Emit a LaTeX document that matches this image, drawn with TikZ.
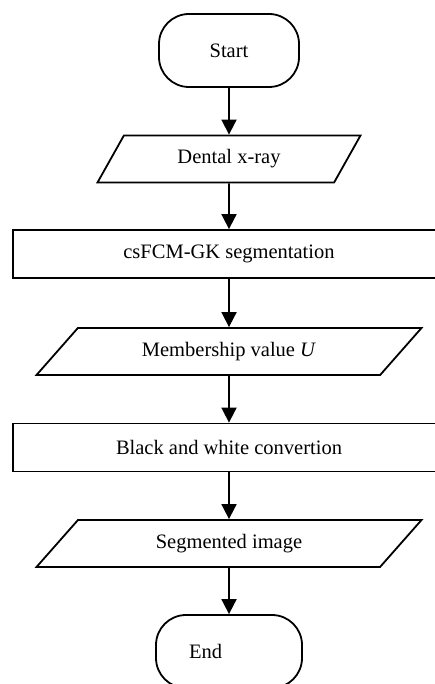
\documentclass[tikz,border=0pt]{standalone}
\usepackage{fontspec}
\setmainfont{Liberation Serif}
\usetikzlibrary{shapes.geometric,arrows.meta}
\begin{document}
\begin{tikzpicture}[x=1pt,y=-1pt,
        every node/.style={font=\fontsize{20.5}{24}\selectfont, line width=1.8pt},
        terminal/.style={draw, rectangle, rounded corners=30pt, minimum height=73pt},
        process/.style={draw, rectangle, minimum width=432pt, minimum height=48pt},
        io/.style={draw, trapezium, trapezium stretches body=true,
            trapezium left angle=#1, trapezium right angle=180-#1,
            minimum height=47pt},
        flow/.style={line width=1.8pt, -{Triangle[length=15pt,width=15pt]}}]
        \clip (0,0) rectangle (435,684);

        \node[terminal, minimum width=140pt] (start) at (229,50.5) {Start};
        \node[io=43.8, minimum width=263pt] (xray) at (229,159) {Dental x-ray};
        \node[process] (seg) at (229,254) {csFCM-GK segmentation};
        \node[io=31.4, minimum width=385pt] (memb) at (229,351.5) {Membership value \textit{U}};
        \node[process] (bw) at (229,447.5) {Black and white convertion};
        \node[io=31.4, minimum width=385pt] (segimg) at (229,543.5) {Segmented image};
        \node[terminal, minimum width=146pt, text width=80pt, align=left, inner xsep=33pt] (end) at (229,651.5) {End};

        \draw[flow] (start) -- (xray);
        \draw[flow] (xray) -- (seg);
        \draw[flow] (seg) -- (memb);
        \draw[flow] (memb) -- (bw);
        \draw[flow] (bw) -- (segimg);
        \draw[flow] (segimg) -- (end);
    \end{tikzpicture}
\end{document}
